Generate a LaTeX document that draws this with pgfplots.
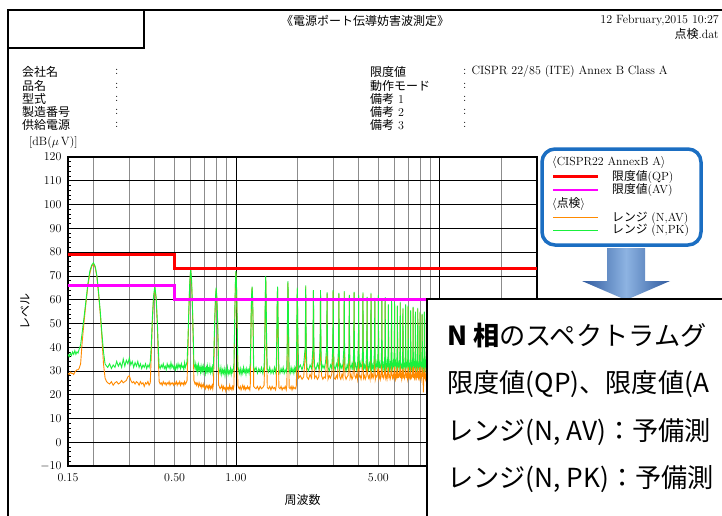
\documentclass[border=0pt]{standalone}
\usepackage{pgfplots}
\pgfplotsset{compat=1.18}
\usepackage{pgfplotstable}
\usepackage{fontspec}
\newfontfamily\jp{Noto Sans CJK JP}
\definecolor{pkgreen}{HTML}{19F03C}
\definecolor{avorange}{HTML}{FF8A00}
\definecolor{limred}{HTML}{FF0000}
\definecolor{limmag}{HTML}{FF00FF}
\definecolor{boxblue}{HTML}{1B6EC2}
\definecolor{arrowdark}{HTML}{2F5A9E}
\definecolor{arrowlight}{HTML}{8DB3E2}

\pgfplotstableread{
f pk av
0.150 37.0 29.0
0.152 36.0 28.5
0.154 37.5 29.5
0.156 36.5 29.0
0.158 38.0 29.0
0.160 37.0 28.5
0.162 38.5 29.5
0.164 37.0 30.0
0.166 38.0 30.5
0.168 37.5 30.5
0.170 39.0 31.0
0.173 41.0 33.0
0.176 46 42
0.180 53 51
0.184 60 59
0.188 67 66
0.192 72 71
0.196 74.5 74
0.200 75.5 75
0.204 74 73.5
0.208 70 69.5
0.212 63 62
0.216 55 54
0.220 46 44
0.224 38 33
0.228 33 27
0.232 32 25.5
0.235 31.5 25.0
0.240 33.0 24.5
0.245 31.0 25.5
0.250 32.5 24.0
0.255 31.5 25.0
0.260 34.0 25.5
0.265 32.0 24.5
0.270 33.5 25.0
0.275 31.5 26.0
0.280 35.0 25.0
0.285 32.0 25.5
0.290 34.5 26.0
0.295 33.0 27.5
0.300 35.5 28.0
0.305 32.5 26.0
0.310 34.0 25.0
0.315 31.5 25.5
0.320 33.5 24.5
0.325 32.0 25.5
0.330 34.0 25.0
0.335 31.5 24.0
0.340 33.0 25.5
0.345 31.0 24.5
0.350 32.5 25.0
0.355 31.5 23.5
0.360 33.0 25.0
0.365 31.0 24.5
0.370 32.5 25.5
0.375 31.5 24.0
0.380 34.0 25.0
0.384 40 36
0.389 52 50
0.394 61 60
0.400 65.5 65
0.406 61 60
0.411 52 50
0.416 40 36
0.420 32 25.5
0.425 31.0 24.5
0.430 32.5 25.0
0.435 31.5 24.0
0.440 33.0 25.5
0.445 31.0 24.5
0.450 32.0 25.0
0.455 30.5 24.0
0.460 33.0 25.0
0.465 31.5 24.5
0.470 32.5 25.5
0.475 31.0 24.0
0.480 33.5 25.0
0.485 31.5 24.5
0.490 32.5 25.0
0.495 31.0 24.0
0.500 32.0 25.0
0.505 30.5 24.5
0.510 32.5 25.5
0.515 31.0 24.0
0.520 33.0 25.0
0.525 31.5 24.5
0.530 32.5 25.5
0.535 31.0 24.0
0.540 33.0 25.0
0.545 31.5 24.5
0.550 32.0 25.0
0.555 30.5 24.0
0.560 33.5 25.5
0.565 31.5 24.5
0.570 32.5 25.0
0.576 34.0 26.0
0.582 44 40
0.588 57 56
0.594 68 67
0.600 73 72.5
0.606 68 67
0.612 57 56
0.618 44 40
0.622 33 26
0.625 32.5 25.5
0.630 31.0 24.5
0.635 33.0 25.0
0.640 30.5 24.0
0.645 32.0 25.0
0.650 29.5 24.5
0.655 32.5 23.5
0.660 30.5 25.0
0.665 31.5 24.0
0.670 29.5 23.5
0.675 32.0 24.5
0.680 30.0 23.0
0.685 31.5 24.0
0.690 29.5 23.5
0.695 32.0 24.5
0.700 30.5 23.0
0.705 31.0 23.5
0.710 29.0 22.5
0.715 31.5 23.5
0.720 30.0 24.0
0.725 32.0 23.0
0.730 29.5 23.5
0.735 31.0 22.5
0.740 30.0 24.0
0.745 32.0 23.5
0.750 29.5 22.5
0.755 31.0 23.5
0.760 30.0 23.0
0.765 31.5 24.0
0.770 29.5 22.5
0.776 33.0 24.5
0.782 42 38
0.788 53 52
0.794 61 60
0.800 65 64.5
0.806 61 60
0.812 53 52
0.818 42 38
0.822 32 24
0.828 30.5 23.5
0.836 29.0 22.5
0.844 31.5 23.0
0.852 28.5 24.0
0.860 30.5 22.0
0.868 29.0 23.5
0.876 31.0 22.5
0.884 28.0 23.0
0.892 30.5 21.5
0.900 29.0 23.5
0.908 31.5 22.5
0.916 28.5 23.0
0.924 30.0 22.0
0.932 29.0 24.0
0.940 31.0 22.5
0.948 28.5 23.0
0.956 30.5 22.0
0.964 29.5 23.5
0.972 31.0 22.5
0.978 33.0 24.0
0.982 42 38
0.988 56 55
0.994 67 66
1.000 72 71.5
1.006 67 66
1.012 56 55
1.018 42 38
1.022 32 24
1.030 30.5 23.0
1.040 29.0 22.5
1.050 31.0 23.5
1.060 28.5 22.0
1.070 30.5 23.0
1.080 29.0 24.0
1.090 31.5 22.5
1.100 29.5 23.5
1.110 30.5 22.0
1.120 28.5 23.0
1.130 31.0 22.5
1.140 29.5 23.5
1.150 30.5 22.5
1.160 29.0 23.0
1.170 31.5 22.0
1.176 33 24
1.182 42 38
1.188 54 53
1.194 62 61
1.200 65.5 65
1.206 62 61
1.212 54 53
1.218 42 38
1.222 32 23.5
1.235 30.0 23.0
1.255 31.5 22.5
1.275 29.0 23.5
1.295 31.0 22.0
1.315 29.5 23.5
1.335 31.5 22.5
1.355 29.0 23.0
1.375 32.0 24.0
1.385 42 37
1.393 60 59
1.400 70 69.5
1.407 60 59
1.415 42 37
1.425 31.0 23.0
1.445 29.5 22.5
1.465 31.5 23.5
1.485 29.0 22.0
1.505 30.5 23.5
1.525 29.0 22.5
1.545 31.5 23.0
1.565 29.5 22.0
1.578 32.0 24.0
1.585 42 37
1.593 57 56
1.600 65.5 65
1.607 57 56
1.615 42 37
1.625 30.5 23.0
1.645 29.0 22.5
1.665 31.0 23.5
1.685 29.5 22.0
1.705 31.5 23.0
1.725 29.0 22.5
1.745 30.5 23.5
1.765 29.5 22.0
1.778 32.0 24.0
1.785 42 37
1.793 58 57
1.800 67.8 67
1.807 58 57
1.815 42 37
1.825 30.5 23.0
1.845 29.0 22.5
1.865 31.5 23.5
1.885 29.5 22.0
1.905 31.0 23.5
1.925 29.0 22.5
1.945 31.5 23.0
1.965 30.0 22.5
1.980 32.5 24.0
1.988 44 40
1.994 57 56
2.000 65 64.5
2.006 57 56
2.014 44 40
2.030 31.0 27.0
2.070 32.5 28.0
2.110 30.5 26.5
2.150 33.0 27.5
2.188 40 36
2.200 66 65.5
2.212 40 36
2.230 31.5 27.5
2.270 30.0 26.5
2.310 32.5 28.5
2.350 31.0 27.0
2.388 40 36
2.400 64 63.5
2.412 40 36
2.430 32.0 27.0
2.470 30.5 28.0
2.510 33.0 26.5
2.550 31.0 27.5
2.588 40 36
2.600 64 63.5
2.612 40 36
2.630 30.5 28.0
2.670 32.5 26.5
2.710 31.0 27.5
2.750 33.5 27.0
2.788 40 36
2.800 63 62.5
2.812 40 36
2.830 31.5 26.5
2.870 30.0 28.0
2.910 32.5 27.0
2.950 31.0 28.5
2.988 40 36
3.000 64 63.5
3.012 40 36
3.030 32.0 27.0
3.070 30.5 26.5
3.110 33.0 28.0
3.150 31.5 27.0
3.188 40 36
3.200 62.8 62.3
3.212 40 36
3.230 30.5 27.5
3.270 32.5 26.5
3.310 31.0 28.5
3.350 33.0 27.0
3.388 40 36
3.400 63.6 63
3.412 40 36
3.430 31.5 28.0
3.470 30.0 26.5
3.510 32.5 27.5
3.550 31.0 28.0
3.588 40 36
3.600 62 61.5
3.612 40 36
3.630 32.5 27.0
3.670 31.0 28.5
3.710 33.0 26.5
3.750 30.5 27.5
3.788 40 36
3.800 63.3 62.8
3.812 40 36
3.830 31.5 28.0
3.870 33.0 27.0
3.910 30.5 28.5
3.950 32.0 26.5
3.988 40 36
4.000 62 61.5
4.012 40 36
4.030 31.0 27.5
4.070 33.5 28.0
4.110 31.5 26.5
4.150 32.5 28.5
4.188 40 36
4.200 63 62.5
4.212 40 36
4.230 30.5 27.0
4.270 32.5 28.0
4.310 31.0 26.5
4.350 33.0 27.5
4.388 40 36
4.400 61.2 60.7
4.412 40 36
4.430 32.0 28.5
4.470 30.5 27.0
4.510 33.0 28.0
4.550 31.5 26.5
4.588 40 36
4.600 62.8 62.3
4.612 40 36
4.630 31.0 27.5
4.670 32.5 28.5
4.710 30.5 27.0
4.750 33.0 28.0
4.788 40 36
4.800 60.7 60.2
4.812 40 36
4.830 32.0 26.5
4.870 31.0 28.0
4.910 33.5 27.5
4.950 31.5 28.5
4.988 40 36
5.000 62 61.5
5.012 40 36
5.030 31.0 27.0
5.070 33.0 28.5
5.110 31.5 26.5
5.150 32.5 28.0
5.188 40 36
5.200 60.5 60
5.212 40 36
5.230 32.0 27.5
5.270 30.5 28.0
5.310 33.0 27.0
5.350 31.5 28.5
5.388 40 36
5.400 61 60.5
5.412 40 36
5.430 32.5 27.0
5.470 31.0 28.0
5.510 33.5 26.5
5.550 31.5 28.5
5.588 40 36
5.600 58 57.5
5.612 40 36
5.630 32.0 27.5
5.670 30.5 28.0
5.710 33.0 26.5
5.750 31.5 27.5
5.788 40 36
5.800 60 59.5
5.812 40 36
5.830 32.5 28.5
5.870 31.0 27.0
5.910 33.5 28.0
5.950 31.5 27.0
5.988 40 36
6.000 59 58.5
6.012 40 36
6.030 32.0 28.0
6.070 33.5 26.5
6.110 31.0 28.5
6.150 32.5 27.5
6.188 40 36
6.200 57.5 57
6.212 40 36
6.230 31.5 27.0
6.270 33.0 28.5
6.310 31.0 27.5
6.350 32.5 28.0
6.388 40 36
6.400 59 58.5
6.412 40 36
6.430 33.0 27.0
6.470 31.5 28.5
6.510 32.5 26.5
6.550 31.0 28.0
6.588 40 36
6.600 56.5 56
6.612 40 36
6.630 32.5 27.5
6.670 31.0 28.0
6.710 33.5 27.0
6.750 31.5 28.5
6.788 40 36
6.800 58 57.5
6.812 40 36
6.830 32.0 27.0
6.870 33.0 28.5
6.910 31.5 27.5
6.950 32.5 26.5
6.988 40 36
7.000 57.5 57
7.012 40 36
7.030 31.5 28.0
7.070 33.5 27.0
7.110 31.0 28.5
7.150 32.5 27.5
7.188 40 36
7.200 55.5 55
7.212 40 36
7.230 32.5 26.5
7.270 31.0 28.0
7.310 33.0 27.5
7.350 31.5 28.5
7.388 40 36
7.400 57 56.5
7.412 40 36
7.430 32.0 27.0
7.470 33.5 28.5
7.510 31.5 27.5
7.550 32.5 26.0
7.588 40 36
7.600 55 54.5
7.612 40 36
7.630 31.5 28.0
7.670 33.0 27.0
7.710 31.0 28.5
7.750 32.5 27.0
7.788 40 36
7.800 56.5 56
7.812 40 36
7.830 32.5 28.0
7.870 31.5 27.0
7.910 33.5 28.5
7.950 31.5 27.5
7.988 40 36
8.000 55 54.5
8.012 40 36
8.030 32.0 27.0
8.070 33.0 28.0
8.110 31.5 26.5
8.150 32.5 28.0
8.188 40 36
8.200 54 53.5
8.212 40 36
8.230 31.5 27.5
8.270 33.0 28.5
8.310 31.0 21.0
8.350 32.5 27.0
8.388 40 36
8.400 55 54.5
8.412 40 36
8.430 32.5 27.5
8.470 31.0 28.0
8.510 33.0 26.5
8.550 31.5 27.5
8.588 40 36
8.600 52 51.5
8.612 40 36
8.630 32.0 27.0
8.700 31.0 28.0
8.788 40 36
8.800 53 52.5
8.812 40 36
8.850 32.0 27.5
9.000 31.5 27.0
9.200 32.0 27.5
}\spec

\pgfplotstableread{
f qp av
0.15 79 66
0.5 79 66
0.5 73 60
30 73 60
}\limits

\begin{document}
\begin{tikzpicture}[x=1pt,y=1pt]
\useasboundingbox (0,0) rectangle (722,-515);
\clip (0,0) rectangle (722,-515);
\fill[white] (0,0) rectangle (722,-515);
% frame
\draw[line width=1.3pt] (8,-525) -- (8,-10) -- (735,-10);
\draw[line width=1.3pt] (8,-48) -- (144,-48) -- (144,-10);
% header
\node[inner sep=0] at (365,-21) {\jp\fontsize{12}{12}\selectfont 《電源ポート伝導妨害波測定》};
\node[anchor=east,inner sep=0] at (719,-21) {\fontsize{12}{12}\selectfont 12 February,2015 10:27};
\node[anchor=east,inner sep=0] at (719,-34) {\fontsize{12}{12}\selectfont{\jp 点検}.dat};
\begin{scope}[every node/.style={anchor=west,inner sep=0,font=\fontsize{12}{12}\selectfont}]
\node at (22,-72) {\jp 会社名};
\node at (22,-85.5) {\jp 品名};
\node at (22,-98.5) {\jp 型式};
\node at (22,-111.5) {\jp 製造番号};
\node at (22,-125) {\jp 供給電源};
\foreach \yy in {-72,-85.5,-98.5,-111.5,-125} {\node at (115,\yy) {:};}
\node at (370,-72) {\jp 限度値};
\node at (370,-85.5) {\jp 動作モード};
\node at (370,-98.5) {{\jp 備考} 1};
\node at (370,-111.5) {{\jp 備考} 2};
\node at (370,-125) {{\jp 備考} 3};
\node at (463,-72) {: CISPR 22/85 (ITE) Annex B Class A};
\foreach \yy in {-85.5,-98.5,-111.5,-125} {\node at (463,\yy) {:};}
\node at (29,-143) {[dB($\mu\,$V)]};
\end{scope}
\begin{axis}[
  at={(68pt,-466pt)}, anchor=south west,
  scale only axis, width=469pt, height=309pt,
  xmode=log, xmin=0.15, xmax=30, ymin=-10, ymax=120,
  ytick={-10,0,10,20,30,40,50,60,70,80,90,100,110,120},
  minor y tick num=4,
  xtick={1,10}, xticklabels={1.00,{}},
  extra x ticks={0.15,0.5,5}, extra x tick labels={0.15,0.50,5.00},
  extra x tick style={grid=none},
  minor xtick={0.2,0.3,0.4,0.5,0.6,0.7,0.8,0.9,2,3,4,5,6,7,8,9,20},
  xmajorgrids, xminorgrids, ymajorgrids,
  major grid style={black, line width=0.7pt},
  minor grid style={black!45, line width=0.7pt},
  xtick style={draw=none},
  ytick pos=left, tick align=inside,
  ytick style={black, line width=0.7pt},
  major tick length=5pt, minor tick length=3.5pt,
  axis line style={line width=1.3pt},
  ticklabel style={font=\fontsize{12}{12}\selectfont},
  yticklabel style={xshift=-3pt},
  xticklabel style={yshift=-4pt},
  log ticks with fixed point,
  xlabel={\jp 周波数}, ylabel={\jp レベル},
  label style={font=\fontsize{12}{12}\selectfont},
  xlabel style={at={(axis description cs:0.5,-0.11)}, anchor=center},
  ylabel style={at={(axis description cs:-0.0917,0.5)}, anchor=center},
]
\addplot[avorange, line width=0.9pt] table[x=f,y=av]{\spec};
\addplot[pkgreen, line width=0.9pt] table[x=f,y=pk]{\spec};
\addplot[limred, line width=2.5pt] table[x=f,y=qp]{\limits};
\addplot[limmag, line width=2.5pt] table[x=f,y=av]{\limits};
\end{axis}
% legend box
\draw[boxblue, line width=3.5pt, fill=white, rounded corners=13pt] (542,-149) rectangle (701,-245);
\begin{scope}[every node/.style={anchor=west,inner sep=0,font=\fontsize{11.8}{11.8}\selectfont}]
\node at (552,-162.5) {$\langle$CISPR22 AnnexB A$\rangle$};
\draw[limred, line width=2.5pt] (553,-176.5) -- (598,-176.5);
\node at (612,-177) {{\jp 限度値}(QP)};
\draw[limmag, line width=2.5pt] (553,-190) -- (598,-190);
\node at (612,-190.5) {{\jp 限度値}(AV)};
\node at (552,-204) {$\langle${\jp 点検}$\rangle$};
\draw[avorange, line width=0.8pt] (553,-217.5) -- (598,-217.5);
\node at (612,-218) {{\jp レンジ} (N,AV)};
\draw[pkgreen, line width=0.8pt] (553,-230.5) -- (598,-230.5);
\node at (612,-230.5) {{\jp レンジ} (N,PK)};
\end{scope}
% arrow
\shade[left color=arrowdark, right color=arrowdark, middle color=arrowlight]
  (607,-248) -- (645,-248) -- (645,-281) -- (670,-281) -- (626,-300) -- (582,-281) -- (607,-281) -- cycle;
% callout
\draw[line width=1.3pt, fill=white] (427,-299) rectangle (745,-540);
\begin{scope}[every node/.style={anchor=base west,inner sep=0}]
\node at (447,-345) {\jp\fontsize{26.2}{26.2}\selectfont\textbf{N 相}のスペクトラムグ};
\node at (447,-392) {\jp\fontsize{26.2}{26.2}\selectfont 限度値(QP)、限度値(A};
\node at (447,-440) {\jp\fontsize{26.2}{26.2}\selectfont レンジ(N, AV)：予備測};
\node at (447,-487) {\jp\fontsize{26.2}{26.2}\selectfont レンジ(N, PK)：予備測};
\end{scope}
\end{tikzpicture}
\end{document}
